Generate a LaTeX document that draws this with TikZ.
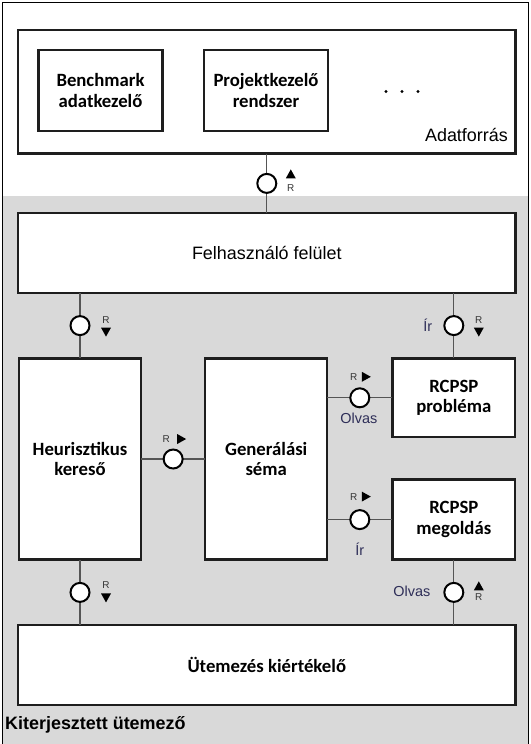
\documentclass[tikz,border=0pt]{standalone}
\usepackage{fontspec}
\setmainfont{Liberation Sans}
\newfontfamily\carlito{Carlito}
\usetikzlibrary{calc}
\definecolor{bggray}{HTML}{D9D9D9}
\definecolor{boxline}{HTML}{1E1E1E}
\definecolor{connline}{HTML}{555555}
\definecolor{lblcol}{HTML}{2E2E58}
\definecolor{rcol}{HTML}{333333}
\begin{document}
\begin{tikzpicture}[x=1bp,y=-1bp,
  box/.style={draw=boxline, line width=2.4bp, fill=white, inner sep=0pt, outer sep=0pt,
    font=\carlito\bfseries\fontsize{18.8}{20.5}\selectfont, align=center, text=black},
  port/.style={circle, draw=black, line width=2bp, fill=white, minimum size=19bp, inner sep=0pt},
  conn/.style={draw=connline, line width=1.3bp},
  rl/.style={font=\fontsize{10}{10}\selectfont, text=rcol, inner sep=0pt},
  lbl/.style={font=\fontsize{14.5}{16}\selectfont, text=lblcol, inner sep=0pt},
  tri/.style={fill=black}
]
\useasboundingbox (0,0) rectangle (531,744);
% background
\fill[white] (0,0) rectangle (531,744);
\fill[bggray] (3,196) rectangle (528.5,746);
\draw[black, line width=1bp] (2.5,2.5) rectangle (528.5,750);

% boxes
\node[box, minimum width=497bp, minimum height=123.6bp] (adat) at (266.8,91.8) {};
\node[box, minimum width=124bp, minimum height=80.6bp] (bench) at (100.5,90.5) {Benchmark\\adatkezelő};
\node[box, minimum width=124bp, minimum height=80.6bp] (proj) at (266,90.5) {Projektkezelő\\rendszer};
\node[anchor=base east, inner sep=0pt, font=\fontsize{18}{20}\selectfont, text=black] (adatlbl) at (508,141) {Adatforrás};
\foreach \xx in {386,402,418} \fill[black] (\xx,91.5) circle (1.7bp);

\node[box, minimum width=497bp, minimum height=79.6bp, font=\fontsize{18}{20}\selectfont] (felh) at (266.8,253) {Felhasználó felület};
\node[box, minimum width=122.3bp, minimum height=201.2bp] (heur) at (80,459) {Heurisztikus\\kereső};
\node[box, minimum width=122.1bp, minimum height=201.2bp] (gen) at (266.2,459) {Generálási\\séma};
\node[box, minimum width=122.9bp, minimum height=78.9bp] (prob) at (453.8,397.8) {RCPSP\\probléma};
\node[box, minimum width=122.9bp, minimum height=79.9bp] (sol) at (453.8,519.6) {RCPSP\\megoldás};
\node[box, minimum width=497bp, minimum height=79.6bp] (utem) at (266.8,665) {Ütemezés kiértékelő};

\node[anchor=base west, inner sep=0pt, font=\bfseries\fontsize{18}{20}\selectfont, text=black] (kit) at (5,729.5) {Kiterjesztett ütemező};

% connectors with ports
\draw[conn] (adat.south) -- node[port] (p0) {} (felh.north);
\draw[conn] (felh.south -| heur.north) -- node[port] (p1) {} (heur.north);
\draw[conn] (felh.south -| prob.north) -- node[port] (p2) {} (prob.north);
\draw[conn] (heur.east) -- node[port] (p3) {} (gen.west);
\draw[conn] (gen.east |- prob.west) -- node[port] (p4) {} (prob.west);
\draw[conn] (gen.east |- sol.west) -- node[port] (p5) {} (sol.west);
\draw[conn] (heur.south) -- node[port] (p6) {} (utem.north -| heur.south);
\draw[conn] (sol.south) -- node[port] (p7) {} (utem.north -| sol.south);

% R labels and arrows
% p0: up arrow above R
\fill[tri] ($(p0)+(24,-14)$) -- ++(5,9) -- ++(-10,0) -- cycle;
\node[rl] (r0) at ($(p0)+(24,5)$) {R};
% p1: R above down arrow
\node[rl] (r1) at ($(p1)+(26,-6)$) {R};
\fill[tri] ($(p1)+(26,11)$) -- ++(-5,-9) -- ++(10,0) -- cycle;
% p2
\node[rl] (r2) at ($(p2)+(25,-6)$) {R};
\fill[tri] ($(p2)+(25,11)$) -- ++(-5,-9) -- ++(10,0) -- cycle;
\node[lbl] (ir1) at ($(p2)+(-26,0)$) {Ír};
% p3
\node[rl] (r3) at ($(p3)+(-7,-20)$) {R};
\fill[tri] ($(p3)+(13,-20)$) -- ++(-9,-5) -- ++(0,10) -- cycle;
% p4
\node[rl] (r4) at ($(p4)+(-6,-21)$) {R};
\fill[tri] ($(p4)+(11,-21)$) -- ++(-9,-5) -- ++(0,10) -- cycle;
\node[lbl] (olv1) at ($(p4)+(-1,21)$) {Olvas};
% p5
\node[rl] (r5) at ($(p5)+(-6,-23)$) {R};
\fill[tri] ($(p5)+(11,-23)$) -- ++(-9,-5) -- ++(0,10) -- cycle;
\node[lbl] (ir2) at ($(p5)+(0,30)$) {Ír};
% p6
\node[rl] (r6) at ($(p6)+(26,-7)$) {R};
\fill[tri] ($(p6)+(26,10)$) -- ++(-5,-9) -- ++(10,0) -- cycle;
% p7
\fill[tri] ($(p7)+(25,-11)$) -- ++(5,9) -- ++(-10,0) -- cycle;
\node[rl] (r7) at ($(p7)+(25,5)$) {R};
\node[lbl] (olv2) at ($(p7)+(-42,-1)$) {Olvas};
\end{tikzpicture}
\end{document}
